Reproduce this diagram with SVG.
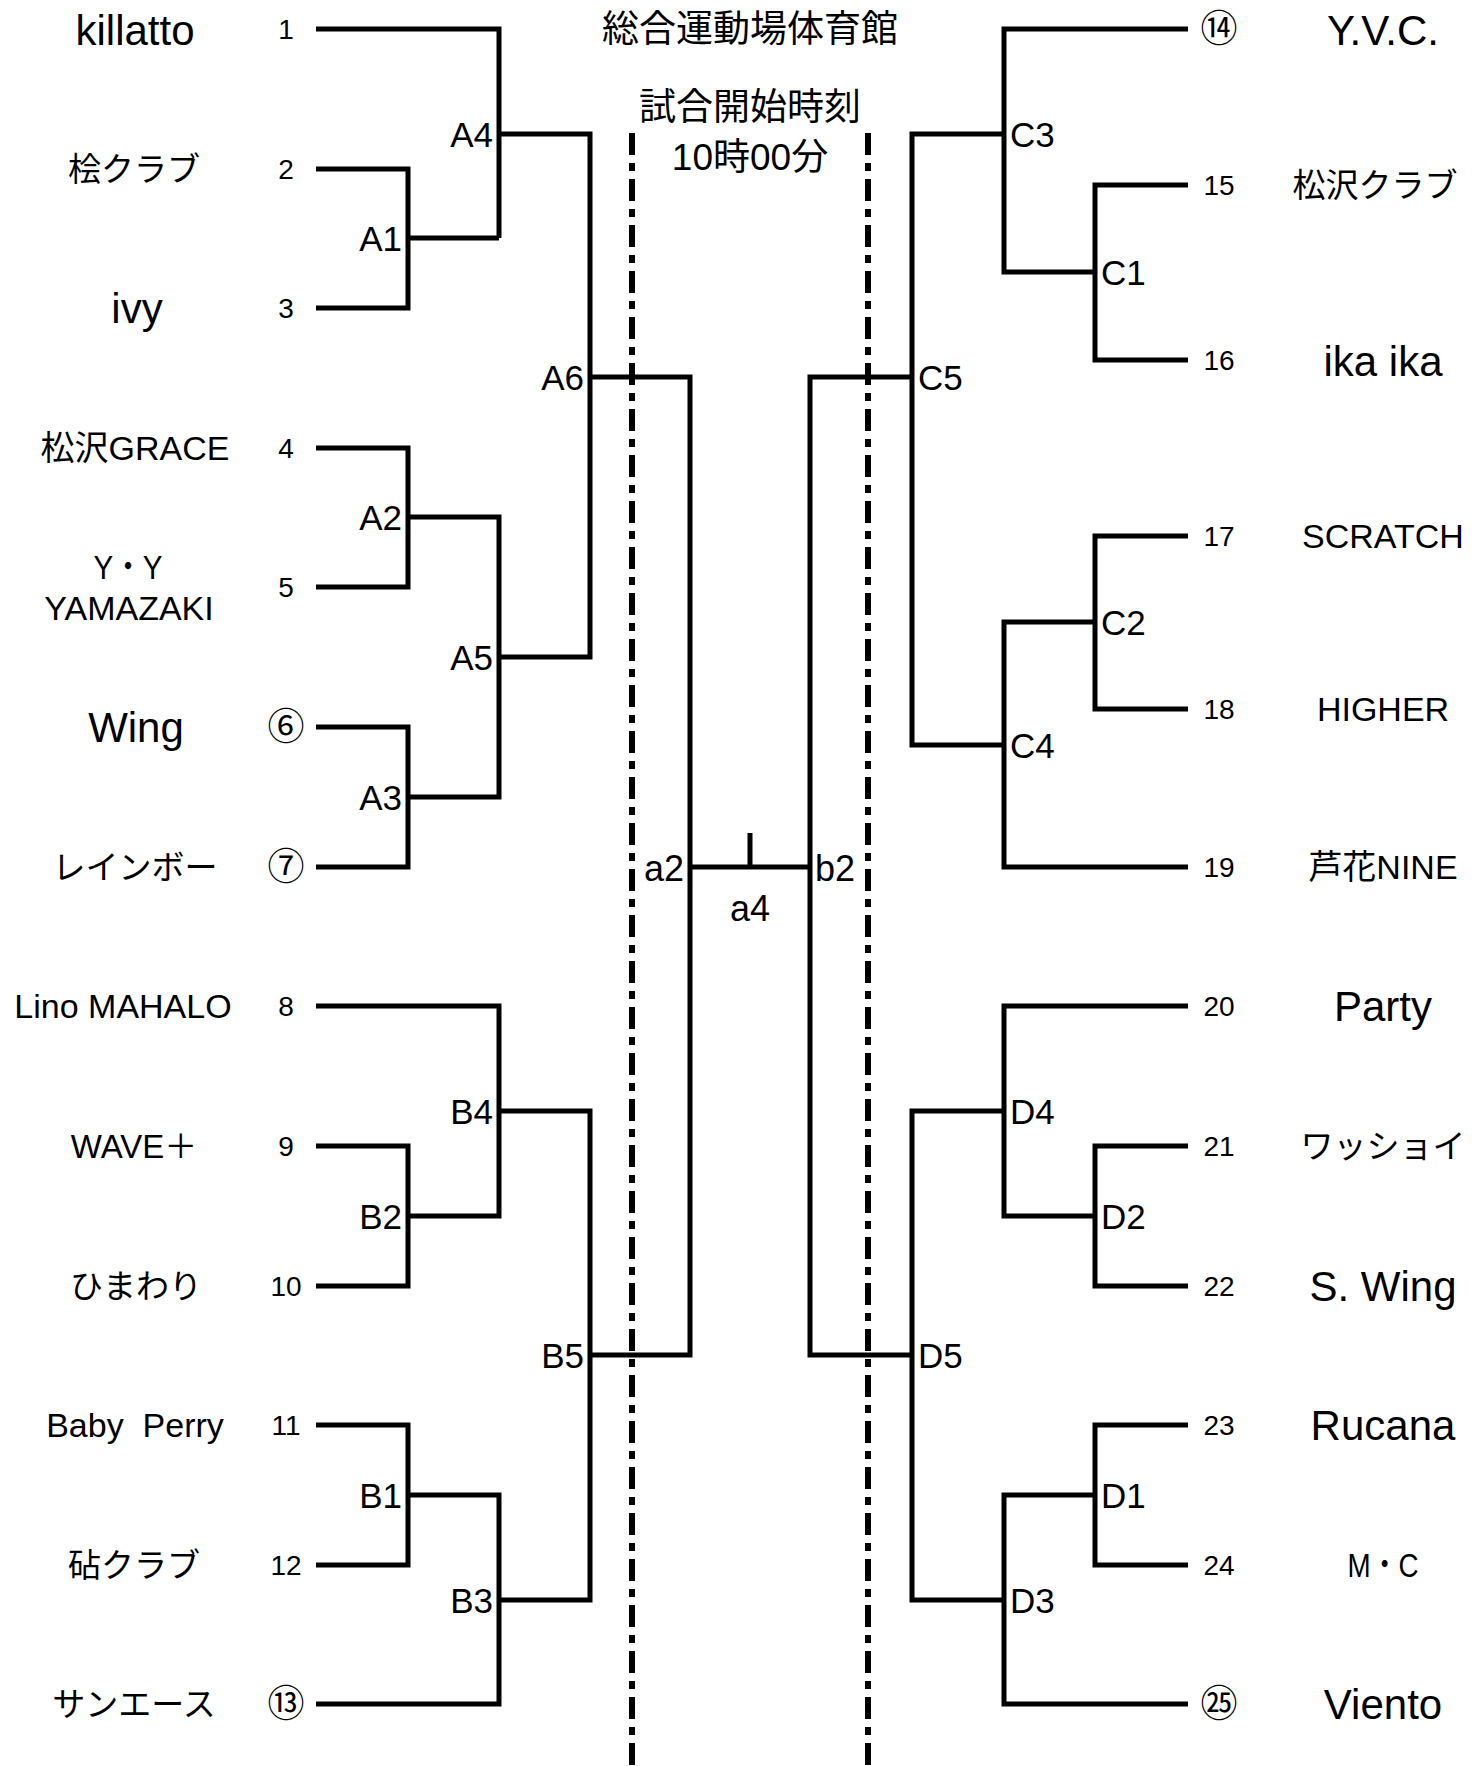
<svg xmlns="http://www.w3.org/2000/svg" width="1475" height="1766" viewBox="0 0 1475 1766">
<style>
text{font-family:"Liberation Sans","Noto Sans CJK JP",sans-serif;fill:#000}
.ln{fill:none;stroke:#000;stroke-width:5;stroke-linejoin:miter;stroke-linecap:butt}
.dash{fill:none;stroke:#000;stroke-width:6;stroke-dasharray:22 8 8 8}
.big{font-size:42px;text-anchor:middle}
.jp{font-size:33px;text-anchor:middle}
.sm{font-size:34px;text-anchor:middle}
.num{font-size:28px;text-anchor:middle}
.cir{font-size:37px;text-anchor:middle;font-family:"Noto Sans CJK JP",sans-serif}
.lbl{font-size:35px}
.ll{text-anchor:end}
.title{font-size:37px;text-anchor:middle}
.fin{font-size:36px}
</style>
<rect width="1475" height="1766" fill="#fff"/>
<g id="headers">
<text class="title" x="750" y="42">総合運動場体育館</text>
<text class="title" x="750" y="120">試合開始時刻</text>
<text class="title" x="750" y="170">10時00分</text>
</g>
<g id="dividers">
<line class="dash" x1="632" y1="133" x2="632" y2="1766"/>
<line class="dash" x1="868" y1="133" x2="868" y2="1766"/>
</g>
<g id="connectors">
<path class="ln" d="M316 29H499V238"/>
<path class="ln" d="M316 169H408V308H316"/>
<path class="ln" d="M408 238H499"/>
<path class="ln" d="M499 134H590V657H499"/>
<path class="ln" d="M316 448H408V587H316"/>
<path class="ln" d="M408 517H499V797H408"/>
<path class="ln" d="M316 727H408V867H316"/>
<path class="ln" d="M590 377H690V1355H590"/>
<path class="ln" d="M316 1006H499V1216H408"/>
<path class="ln" d="M316 1146H408V1286H316"/>
<path class="ln" d="M499 1111H590V1600H499"/>
<path class="ln" d="M316 1425H408V1565H316"/>
<path class="ln" d="M408 1495H499V1704H316"/>
<path class="ln" d="M690 867H810"/>
<path class="ln" d="M750 833V867"/>
<path class="ln" d="M1188 29H1004V272H1095"/>
<path class="ln" d="M1188 185H1095V360H1188"/>
<path class="ln" d="M1004 134H912V745H1004"/>
<path class="ln" d="M1188 536H1095V709H1188"/>
<path class="ln" d="M1095 622H1004V867H1188"/>
<path class="ln" d="M912 377H810V1355H912"/>
<path class="ln" d="M1188 1006H1004V1216H1095"/>
<path class="ln" d="M1188 1146H1095V1286H1188"/>
<path class="ln" d="M1004 1111H912V1600H1004"/>
<path class="ln" d="M1188 1425H1095V1565H1188"/>
<path class="ln" d="M1095 1495H1004V1704H1188"/>
</g>
<g id="match-labels">
<text class="lbl ll" x="402" y="251">A1</text>
<text class="lbl ll" x="493" y="147">A4</text>
<text class="lbl ll" x="584" y="390">A6</text>
<text class="lbl ll" x="402" y="530">A2</text>
<text class="lbl ll" x="493" y="670">A5</text>
<text class="lbl ll" x="402" y="810">A3</text>
<text class="lbl ll" x="493" y="1124">B4</text>
<text class="lbl ll" x="402" y="1229">B2</text>
<text class="lbl ll" x="584" y="1368">B5</text>
<text class="lbl ll" x="402" y="1508">B1</text>
<text class="lbl ll" x="493" y="1613">B3</text>
<text class="lbl" x="1010" y="147">C3</text>
<text class="lbl" x="1101" y="285">C1</text>
<text class="lbl" x="918" y="390">C5</text>
<text class="lbl" x="1101" y="635">C2</text>
<text class="lbl" x="1010" y="758">C4</text>
<text class="lbl" x="1010" y="1124">D4</text>
<text class="lbl" x="1101" y="1229">D2</text>
<text class="lbl" x="918" y="1368">D5</text>
<text class="lbl" x="1101" y="1508">D1</text>
<text class="lbl" x="1010" y="1613">D3</text>
<text class="fin" x="684" y="881" text-anchor="end">a2</text>
<text class="fin" x="815" y="881">b2</text>
<text class="fin" x="750" y="921" text-anchor="middle">a4</text>
</g>
<g id="seeds-left">
<text class="num" x="286" y="39">1</text>
<text class="num" x="286" y="179">2</text>
<text class="num" x="286" y="318">3</text>
<text class="num" x="286" y="458">4</text>
<text class="num" x="286" y="597">5</text>
<text class="cir" x="286" y="740">⑥</text>
<text class="cir" x="286" y="880">⑦</text>
<text class="num" x="286" y="1016">8</text>
<text class="num" x="286" y="1156">9</text>
<text class="num" x="286" y="1296">10</text>
<text class="num" x="286" y="1435">11</text>
<text class="num" x="286" y="1575">12</text>
<text class="cir" x="286" y="1717">⑬</text>
</g>
<g id="seeds-right">
<text class="cir" x="1219" y="42">⑭</text>
<text class="num" x="1219" y="195">15</text>
<text class="num" x="1219" y="370">16</text>
<text class="num" x="1219" y="546">17</text>
<text class="num" x="1219" y="719">18</text>
<text class="num" x="1219" y="877">19</text>
<text class="num" x="1219" y="1016">20</text>
<text class="num" x="1219" y="1156">21</text>
<text class="num" x="1219" y="1296">22</text>
<text class="num" x="1219" y="1435">23</text>
<text class="num" x="1219" y="1575">24</text>
<text class="cir" x="1219" y="1717">㉕</text>
</g>
<g id="teams-left">
<text class="big" x="135" y="45">killatto</text>
<text class="jp" x="134" y="181">桧クラブ</text>
<text class="big" x="137" y="323">ivy</text>
<text class="sm" x="135" y="460">松沢GRACE</text>
<text class="sm" x="128" y="579" textLength="69" lengthAdjust="spacingAndGlyphs">Y・Y</text>
<text class="sm" x="129" y="620">YAMAZAKI</text>
<text class="big" x="136" y="742">Wing</text>
<text class="jp" x="135" y="879">レインボー</text>
<text class="sm" x="123" y="1018">Lino MAHALO</text>
<text class="jp" x="134" y="1158">WAVE＋</text>
<text class="jp" x="136" y="1298">ひまわり</text>
<text class="sm" x="135" y="1437" xml:space="preserve">Baby  Perry</text>
<text class="jp" x="134" y="1577">砧クラブ</text>
<text class="jp" x="134" y="1716">サンエース</text>
</g>
<g id="teams-right">
<text class="big" x="1383" y="45">Y.V.C.</text>
<text class="jp" x="1375" y="197">松沢クラブ</text>
<text class="big" x="1383" y="376">ika ika</text>
<text class="sm" x="1383" y="548">SCRATCH</text>
<text class="sm" x="1383" y="721">HIGHER</text>
<text class="sm" x="1383" y="879">芦花NINE</text>
<text class="big" x="1383" y="1021">Party</text>
<text class="jp" x="1383" y="1158">ワッショイ</text>
<text class="big" x="1383" y="1301">S. Wing</text>
<text class="big" x="1383" y="1440">Rucana</text>
<text class="sm" x="1383" y="1577" textLength="71" lengthAdjust="spacingAndGlyphs">M・C</text>
<text class="big" x="1383" y="1719">Viento</text>
</g>
</svg>
